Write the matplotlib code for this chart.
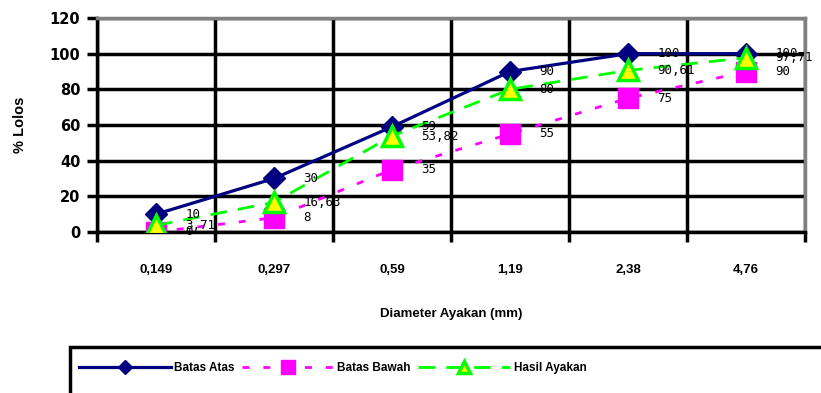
import matplotlib
matplotlib.use("Agg")
import matplotlib.pyplot as plt
from matplotlib.patches import Rectangle

# Sieve sizes (mm) and passing percentages
sieves = ["0,149", "0,297", "0,59", "1,19", "2,38", "4,76"]
batas_atas = [10, 30, 59, 90, 100, 100]
batas_bawah = [0, 8, 35, 55, 75, 90]
hasil_ayakan = [3.71, 16.63, 53.82, 80, 90.61, 97.71]
y_ticks = [0, 20, 40, 60, 80, 100, 120]


def fmt(v):
    s = ("%.2f" % v).rstrip("0").rstrip(".")
    return s.replace(".", ",")


sans = ["Liberation Sans", "DejaVu Sans"]

fig = plt.figure(figsize=(8.21, 3.93), dpi=100)
ax = fig.add_axes([97 / 821, 1 - 232 / 393, 708 / 821, 214 / 393])

x = list(range(len(sieves)))

ax.plot(x, batas_atas, color="#000080", lw=2.3, marker="D", ms=11,
        mfc="#000080", mec="#000080", label="Batas Atas", zorder=3)
ax.plot(x, batas_bawah, color="#FF00FF", lw=2.0, ls=(0, (2.5, 5)),
        marker="s", ms=15, mfc="#FF00FF", mec="#FF00FF",
        label="Batas Bawah", zorder=4)
ax.plot(x, hasil_ayakan, color="#00FF00", lw=2.0, ls=(0, (6, 4)),
        marker="^", ms=14, mfc="#FFFF00", mec="#00FF00", mew=2.5,
        label="Hasil Ayakan", zorder=5)

lab_font = dict(family="DejaVu Sans Mono", fontsize=9, color="black")
for series in (batas_atas, batas_bawah, hasil_ayakan):
    for i, v in enumerate(series):
        ax.annotate(fmt(v), (i, v), xytext=(21, 0), textcoords="offset points",
                    ha="left", va="center", zorder=6, **lab_font)

ax.set_xlim(-0.5, len(sieves) - 0.5)
ax.set_ylim(0, 120)
ax.set_yticks(y_ticks)
ax.set_yticklabels([str(t) for t in y_ticks], fontsize=10.5, fontweight="bold")
ax.set_xticks(x)
ax.set_xticklabels(sieves, fontsize=9.5, fontweight="bold", family=sans)
ax.set_xticks([i - 0.5 for i in range(len(sieves) + 1)], minor=True)
ax.tick_params(axis="x", which="major", length=0, pad=23)
ax.tick_params(axis="x", which="minor", length=7, width=2.5, direction="out")
ax.tick_params(axis="y", which="major", length=7, width=2.5, direction="out", pad=5)

ax.grid(True, axis="y", which="major", color="black", lw=2.5)
ax.grid(True, axis="x", which="minor", color="black", lw=2.5)
ax.set_axisbelow(True)

for side in ("left", "bottom"):
    ax.spines[side].set_color("black")
    ax.spines[side].set_linewidth(2.5)
for side in ("top", "right"):
    ax.spines[side].set_color("#808080")
    ax.spines[side].set_linewidth(2.5)

ax.set_ylabel("% Lolos", fontsize=10.5, fontweight="bold", family=sans, labelpad=16)
ax.set_xlabel("Diameter Ayakan (mm)", fontsize=9.5, fontweight="bold",
              family=sans, labelpad=23)

# Legend box along the bottom edge
fig.patches.append(Rectangle((70 / 821, -0.05), 0.95, (393 - 347) / 393 + 0.05,
                             transform=fig.transFigure, fill=False,
                             edgecolor="black", lw=2.5))
handles, labels = ax.get_legend_handles_labels()
fig.legend(handles, labels, loc="center left",
           bbox_to_anchor=(68 / 821, 1 - 368 / 393), ncol=3, frameon=False,
           handlelength=7.8, handletextpad=0.3, columnspacing=0.6,
           markerscale=0.65, prop=dict(family=sans, weight="bold", size=8.5))

fig.savefig("out.png", dpi=100)
